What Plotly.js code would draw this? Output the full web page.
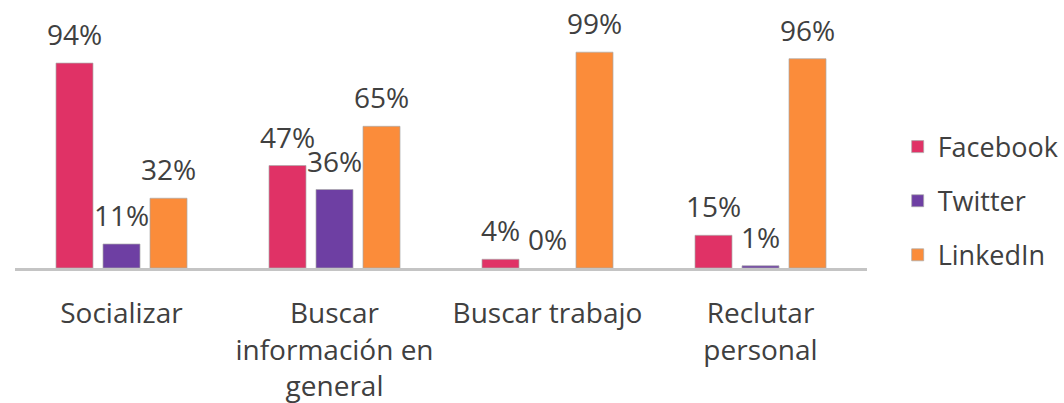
<!DOCTYPE html>
<html>
<head>
<meta charset="utf-8">
<script src="https://cdn.plot.ly/plotly-3.0.1.min.js"></script>
<style>html,body{margin:0;padding:0;background:#fff;}#chart{width:1064px;height:403px;}</style>
</head>
<body>
<div id="chart"></div>
<script>
const categories = ["Socializar", "Buscar<br>información en<br>general", "Buscar trabajo", "Reclutar<br>personal"];
const seriesNames = ["Facebook", "Twitter", "LinkedIn"];
const facebook = [94, 47, 4, 15];
const twitter = [11, 36, 0, 1];
const linkedin = [32, 65, 99, 96];
const colors = ["#E03266", "#6E3FA3", "#FB8C3A"];

const seriesValues = [facebook, twitter, linkedin];
const FONT = "Open Sans, sans-serif";
const traces = [];
seriesValues.forEach((vals, i) => {
  traces.push({
    type: "bar",
    name: seriesNames[i],
    x: categories,
    y: vals.map(v => v / 100),
    offsetgroup: String(i),
    legendgroup: String(i),
    marker: {color: colors[i], line: {color: "rgba(170,170,170,0.7)", width: vals.map(v => v > 0 ? 1 : 0)}},
    hoverinfo: "skip"
  });
});
seriesValues.forEach((vals, i) => {
  traces.push({
    type: "scatter",
    mode: "markers+text",
    x: categories,
    y: vals.map(v => v / 100),
    offsetgroup: String(i),
    text: vals.map(v => v + "%"),
    textposition: "top center",
    textfont: {family: FONT, size: 28, color: "#404040"},
    marker: {size: 16, opacity: 0},
    cliponaxis: false,
    showlegend: false,
    hoverinfo: "skip"
  });
});

const layout = {
  width: 1064, height: 403,
  margin: {l: 15, r: 197, t: 50, b: 135, autoexpand: false},
  paper_bgcolor: "#ffffff",
  plot_bgcolor: "#ffffff",
  barmode: "group",
  scattermode: "group",
  bargap: 0.338,
  bargroupgap: 0.213,
  showlegend: true,
  legend: {
    x: 1.036, xanchor: "left", y: 0.307, yanchor: "middle",
    font: {family: FONT, size: 27, color: "#404040"},
    traceorder: "grouped",
    tracegroupgap: 16,
    itemwidth: 30
  },
  xaxis: {
    type: "category",
    showline: true, linecolor: "#c4c4c4", linewidth: 2.5,
    ticks: "", showgrid: false, zeroline: false,
    tickfont: {family: FONT, size: 28, color: "#404040"},
    ticklabelstandoff: 19
  },
  yaxis: {
    range: [0, 1], visible: false, showgrid: false, zeroline: false, fixedrange: true
  },
  font: {family: FONT, color: "#404040"}
};

Plotly.newPlot("chart", traces, layout, {displayModeBar: false, staticPlot: true});
</script>
</body>
</html>
